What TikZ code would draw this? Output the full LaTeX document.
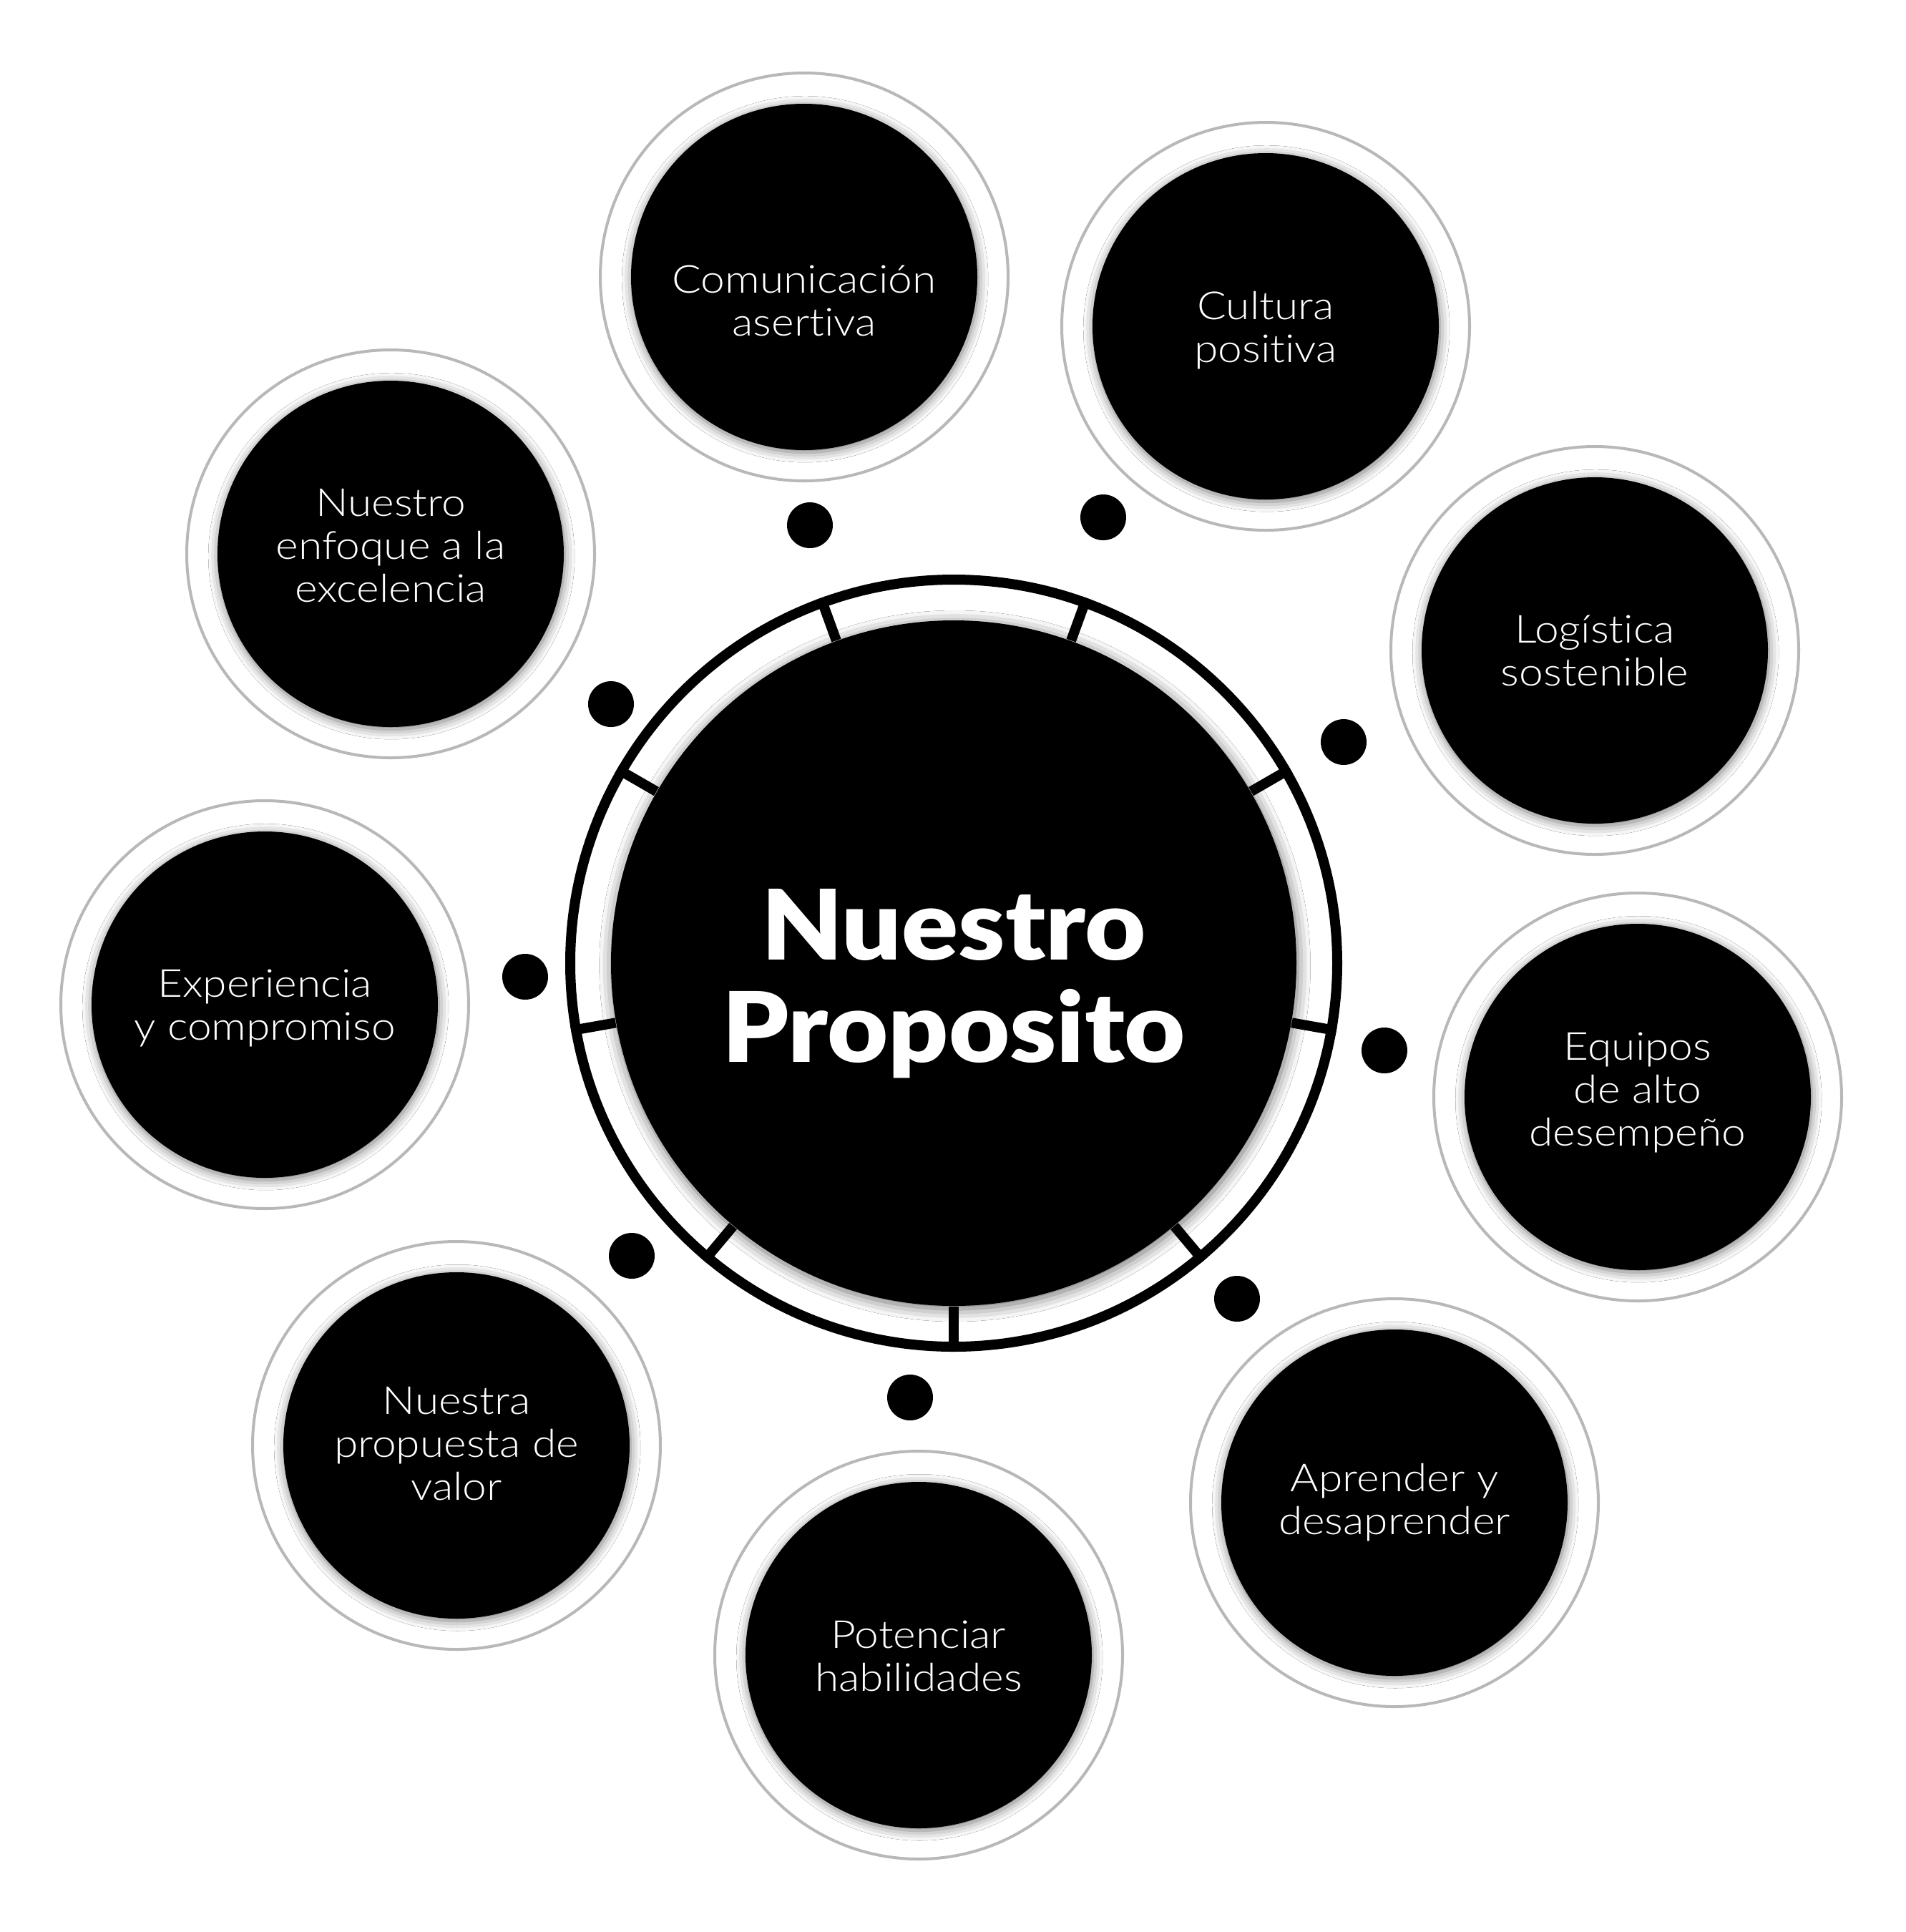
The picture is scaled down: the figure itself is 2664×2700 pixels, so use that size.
\documentclass[tikz,border=0pt]{standalone}
\usepackage{fontspec}
\setmainfont{Lato}
\newfontfamily\satfont{Lato}[UprightFont={* Light}, FakeStretch=1.12, Ligatures=NoCommon]
\newfontfamily\titfont{Lato}[UprightFont={* Black}, FakeStretch=1.08, Ligatures=NoCommon]
\usetikzlibrary{shadows.blur}
\newcommand\satlines[1]{\begin{tabular}[t]{@{}c@{}}#1\end{tabular}}
\tikzset{
  halo/.style={circle, draw=black!28, line width=1pt, minimum size=142.5pt, inner sep=0pt},
  disc/.style={circle, fill=black, minimum size=121pt, inner sep=0pt,
    blur shadow={shadow xshift=0.3pt, shadow yshift=-0.8pt, shadow blur radius=3.5pt, shadow opacity=55}},
  lbl/.style={text=white, font=\satfont\fontsize{13.5}{15}\selectfont, inner sep=0pt, anchor=base},
  dotst/.style={circle, fill=black, minimum size=16pt, inner sep=0pt},
  ringst/.style={circle, draw=black, line width=3.5pt, minimum size=268pt, inner sep=0pt},
  core/.style={circle, fill=black, minimum size=239.5pt, inner sep=0pt,
    blur shadow={shadow xshift=0.4pt, shadow yshift=-1pt, shadow blur radius=4.5pt, shadow opacity=60}},
  divider/.style={draw=black, line width=3.5pt},
  title/.style={text=white, font=\titfont\fontsize{34}{34.25}\selectfont, inner sep=0pt, anchor=base}
}
\begin{document}
\begin{tikzpicture}[x=0.25pt, y=-0.25pt]
\fill[white] (0,0) rectangle (2664,2700);
\useasboundingbox (0,0) rectangle (2664,2700);

% central
\coordinate (ctr) at (1333,1346);
\node[ringst] (R) at (ctr) {};
\node[core] (C) at (ctr) {};
\foreach \a in {110,70,30,-10,-50,-90,-130,-170,150}
  \draw[divider] (C.\a) -- (R.\a);
\node[title] (T) at (1333,1341) {\satlines{Nuestro\\Proposito}};

% satellites
\node[halo] (h1) at (1124,387) {};
\node[disc] (s1) at (h1) {};
\node[lbl] (t1) at (1124,409) {\satlines{Comunicación\\asertiva}};

\node[halo] (h2) at (1769,456) {};
\node[disc] (s2) at (h2) {};
\node[lbl] (t2) at (1769,446) {\satlines{Cultura\\positiva}};

\node[halo] (h3) at (2229,909) {};
\node[disc] (s3) at (h3) {};
\node[lbl] (t3) at (2229,898) {\satlines{Logística\\sostenible}};

\node[halo] (h4) at (2289,1533) {};
\node[disc] (s4) at (h4) {};
\node[lbl] (t4) at (2289,1481) {\satlines{Equipos\\de alto\\desempeño}};

\node[halo] (h5) at (1949,2100) {};
\node[disc] (s5) at (h5) {};
\node[lbl] (t5) at (1949,2084) {\satlines{Aprender y\\desaprender}};

\node[halo] (h6) at (1284,2313) {};
\node[disc] (s6) at (h6) {};
\node[lbl] (t6) at (1284,2303) {\satlines{Potenciar\\habilidades}};

\node[halo] (h7) at (638,2020) {};
\node[disc] (s7) at (h7) {};
\node[lbl] (t7) at (638,1976) {\satlines{Nuestra\\propuesta de\\valor}};

\node[halo] (h8) at (370,1404) {};
\node[disc] (s8) at (h8) {};
\node[lbl] (t8) at (370,1393) {\satlines{Experiencia\\y compromiso}};

\node[halo] (h9) at (546,774) {};
\node[disc] (s9) at (h9) {};
\node[lbl] (t9) at (546,721) {\satlines{Nuestro\\enfoque a la\\excelencia}};

% dots
\node[dotst] (d1) at (1132,734) {};
\node[dotst] (d2) at (1542,723) {};
\node[dotst] (d3) at (1878,1037) {};
\node[dotst] (d4) at (1935,1468) {};
\node[dotst] (d5) at (1729,1815) {};
\node[dotst] (d6) at (1272,1953) {};
\node[dotst] (d7) at (883,1755) {};
\node[dotst] (d8) at (734,1365) {};
\node[dotst] (d9) at (854,984) {};
\end{tikzpicture}
\end{document}
